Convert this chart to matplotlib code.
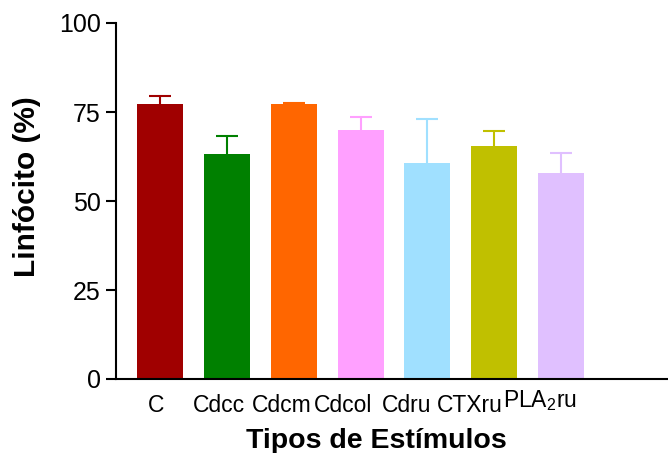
import matplotlib
matplotlib.use("Agg")
import matplotlib.pyplot as plt
import matplotlib.transforms as mtransforms
import numpy as np

plt.rcParams["font.family"] = ["Liberation Sans", "DejaVu Sans"]
plt.rcParams["mathtext.fontset"] = "custom"
plt.rcParams["mathtext.rm"] = "Liberation Sans"
plt.rcParams["mathtext.it"] = "Liberation Sans"

categories = ["C", "Cdcc", "Cdcm", "Cdcol", "Cdru", "CTXru", r"PLA$_2$ru"]
means = [77.2, 63.3, 77.2, 70.0, 60.7, 65.5, 58.0]
upper_err = [2.4, 4.9, 0.2, 3.6, 12.2, 4.1, 5.6]
colors = ["#A00000", "#008000", "#FF6600", "#FFA0FF", "#A0E0FF", "#C0C000", "#E0C0FF"]
label_shift_x = [-4, -8, -12, -18, -21, -24, -21]
label_shift_y = [0, 0, 0, 0, 0, 0, 6]

fig = plt.figure(figsize=(6.68, 4.53), dpi=100)
ax = fig.add_axes([116 / 668, 1 - 379 / 453, 552 / 668, 356 / 453])

x = np.arange(len(categories))
tops = np.array(means) + np.array(upper_err)
ax.vlines(x, means, tops, colors=colors, linewidth=1.5, zorder=1)
for xi, t, c in zip(x, tops, colors):
    ax.plot(xi, t, marker="_", markersize=16.5, mew=1.5, color=c, zorder=1)
ax.bar(x, means, width=0.69, color=colors, zorder=2)

ax.set_xlim(-0.66, 7.6)
ax.set_ylim(0, 100)
ax.set_yticks([0, 25, 50, 75, 100])
ax.set_xticks(x)
ax.set_xticklabels(categories, fontsize=16.5)
ax.tick_params(axis="x", length=0, pad=11)
ax.tick_params(axis="y", length=7, width=1.5, labelsize=18, pad=4)
for lbl, sx, sy in zip(ax.get_xticklabels(), label_shift_x, label_shift_y):
    lbl.set_transform(lbl.get_transform() +
                      mtransforms.ScaledTranslation(sx / 100, sy / 100, fig.dpi_scale_trans))

for side in ["top", "right"]:
    ax.spines[side].set_visible(False)
for side in ["left", "bottom"]:
    ax.spines[side].set_linewidth(1.5)

ax.set_ylabel("Linfócito (%)", fontsize=21.5, fontweight="bold")
ax.yaxis.set_label_coords(-0.136, 0.54)
ax.set_xlabel("Tipos de Estímulos", fontsize=20.5, fontweight="bold")
ax.xaxis.set_label_coords(0.471, -0.137)

fig.savefig("out.png", dpi=100)
